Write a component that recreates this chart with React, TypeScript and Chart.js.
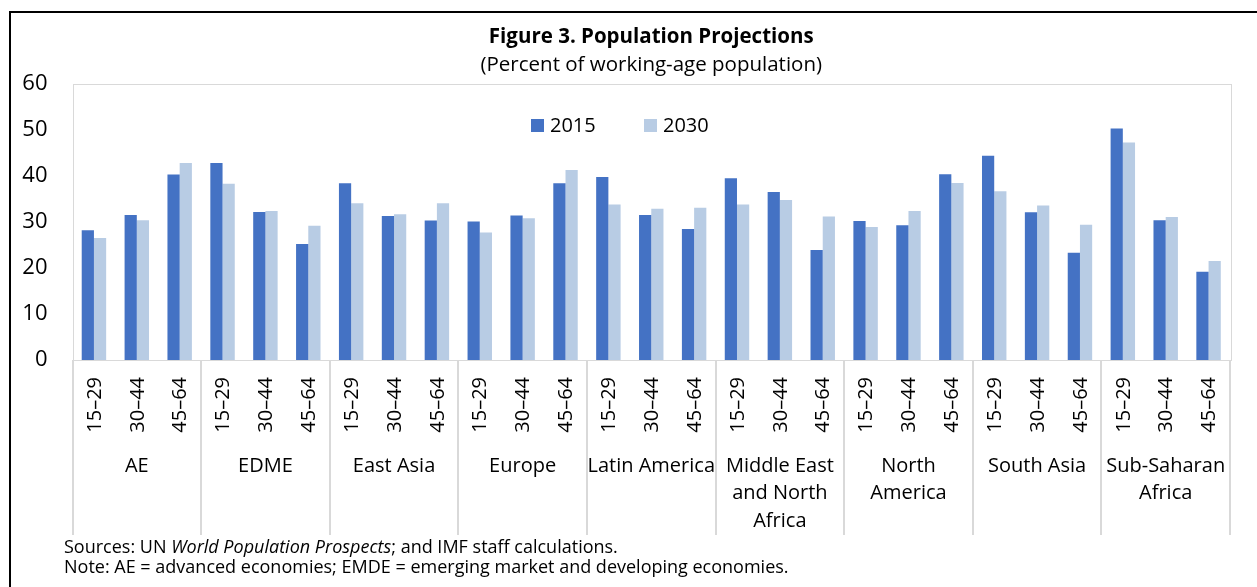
import React, { useEffect, useRef } from "react";
import { Chart, registerables } from "chart.js";

Chart.register(...registerables);

const regions: string[][] = [
  ["AE"],
  ["EDME"],
  ["East Asia"],
  ["Europe"],
  ["Latin America"],
  ["Middle East", "and North", "Africa"],
  ["North", "America"],
  ["South Asia"],
  ["Sub-Saharan", "Africa"],
];
const ageGroups = ["15–29", "30–44", "45–64"];
const values2015 = [
  28.2, 31.5, 40.3, 42.8, 32.2, 25.2, 38.4, 31.3, 30.3, 30.1, 31.4, 38.4, 39.8, 31.5, 28.5,
  39.5, 36.5, 23.9, 30.2, 29.3, 40.4, 44.4, 32.1, 23.3, 50.3, 30.4, 19.2,
];
const values2030 = [
  26.5, 30.4, 42.8, 38.3, 32.4, 29.2, 34.1, 31.7, 34.1, 27.7, 30.8, 41.3, 33.8, 32.9, 33.1,
  33.8, 34.8, 31.2, 28.9, 32.4, 38.5, 36.7, 33.6, 29.4, 47.3, 31.1, 21.5,
];
const seriesNames = ["2015", "2030"];
const yTicks = [0, 10, 20, 30, 40, 50, 60];
const title = "Figure 3. Population Projections";
const subtitle = "(Percent of working-age population)";

const COLOR_2015 = "#4472C4";
const COLOR_2030 = "#B8CCE4";
const FONT = "'Open Sans', 'Noto Sans', sans-serif";

const categories: string[] = [];
regions.forEach((r) => ageGroups.forEach((a) => categories.push(r.join(" ") + " " + a)));

const decorPlugin = {
  id: "decor",
  afterDraw(chart: any) {
    const ctx: CanvasRenderingContext2D = chart.ctx;
    const area = chart.chartArea;
    const xs = chart.scales.x;
    ctx.save();

    // outer frame
    ctx.fillStyle = "#000";
    ctx.fillRect(9, 11, 2, chart.height);
    ctx.fillRect(9, 11, chart.width, 2);

    // plot border
    ctx.strokeStyle = "#D9D9D9";
    ctx.lineWidth = 1;
    ctx.strokeRect(Math.round(area.left) + 0.5, Math.round(area.top) + 0.5, Math.round(area.right - area.left), Math.round(area.bottom - area.top));

    const cx = (area.left + area.right) / 2;
    ctx.fillStyle = "#000";
    ctx.textAlign = "center";
    ctx.textBaseline = "middle";
    ctx.font = `bold 20.5px ${FONT}`;
    ctx.fillText(title, cx, 37);
    ctx.font = `20.5px ${FONT}`;
    ctx.fillText(subtitle, cx, 65);

    // legend
    const legendItems = [
      { name: seriesNames[0], color: COLOR_2015, x: 531 },
      { name: seriesNames[1], color: COLOR_2030, x: 644 },
    ];
    ctx.font = `20px ${FONT}`;
    ctx.textAlign = "left";
    legendItems.forEach((it) => {
      ctx.fillStyle = it.color;
      ctx.fillRect(it.x, 119, 13, 13);
      ctx.fillStyle = "#000";
      ctx.fillText(it.name, it.x + 19, 126);
    });

    // separators
    const n = categories.length;
    ctx.strokeStyle = "#D9D9D9";
    ctx.lineWidth = 2;
    for (let g = 0; g <= regions.length; g++) {
      let x: number;
      if (g === 0) x = area.left;
      else if (g === regions.length) x = area.right;
      else x = (xs.getPixelForValue(g * 3 - 1) + xs.getPixelForValue(g * 3)) / 2;
      ctx.beginPath();
      ctx.moveTo(Math.round(x), area.bottom);
      ctx.lineTo(Math.round(x), 535);
      ctx.stroke();
    }

    // age labels
    ctx.fillStyle = "#000";
    ctx.font = `20px ${FONT}`;
    for (let i = 0; i < n; i++) {
      const x = xs.getPixelForValue(i);
      ctx.save();
      ctx.translate(x + 1, 377);
      ctx.rotate(-Math.PI / 2);
      ctx.textAlign = "right";
      ctx.textBaseline = "middle";
      ctx.fillText(ageGroups[i % 3], 0, 0);
      ctx.restore();
    }

    // region labels
    ctx.textAlign = "center";
    ctx.textBaseline = "middle";
    regions.forEach((lines, g) => {
      const x = xs.getPixelForValue(g * 3 + 1);
      lines.forEach((line, k) => {
        ctx.fillText(line, x, 466 + k * 27.5);
      });
    });

    // footnotes
    ctx.textAlign = "left";
    let fx = 64;
    const parts: [string, boolean][] = [
      ["Sources: UN ", false],
      ["World Population Prospects", true],
      ["; and IMF staff calculations.", false],
    ];
    parts.forEach(([t, it]) => {
      ctx.font = `${it ? "italic " : ""}18px ${FONT}`;
      ctx.fillText(t, fx, 548);
      fx += ctx.measureText(t).width;
    });
    ctx.font = `18px ${FONT}`;
    ctx.fillText("Note: AE = advanced economies; EMDE = emerging market and developing economies.", 64, 568);

    ctx.restore();
  },
};

export default function App() {
  const ref = useRef<HTMLCanvasElement | null>(null);
  useEffect(() => {
    if (!ref.current) return;
    const chart = new Chart(ref.current, {
      type: "bar",
      data: {
        labels: categories,
        datasets: [
          { label: seriesNames[0], data: values2015, backgroundColor: COLOR_2015, categoryPercentage: 0.57, barPercentage: 1.0 },
          { label: seriesNames[1], data: values2030, backgroundColor: COLOR_2030, categoryPercentage: 0.57, barPercentage: 1.0 },
        ],
      },
      options: {
        responsive: false,
        animation: false,
        events: [],
        layout: { padding: { left: 0, top: 84, right: 27, bottom: 227 } },
        plugins: { legend: { display: false }, tooltip: { enabled: false }, title: { display: false } },
        scales: {
          x: {
            ticks: { display: false },
            grid: { display: false, drawTicks: false },
            border: { display: false },
            afterFit: (s: any) => { s.height = 0; },
          },
          y: {
            min: 0,
            max: 60,
            afterBuildTicks: (s: any) => { s.ticks = yTicks.map((v) => ({ value: v })); },
            ticks: { color: "#000", font: { size: 22, family: FONT }, padding: 25 },
            grid: { display: false, drawTicks: false },
            border: { display: false },
            afterFit: (s: any) => { s.width = 72.5; },
          },
        },
      },
      plugins: [decorPlugin],
    });
    return () => chart.destroy();
  }, []);
  return (
    <div style={{ position: "fixed", left: 0, top: 0, width: 1257, height: 587, background: "#fff" }}>
      <canvas ref={ref} width={1257} height={587} />
    </div>
  );
}
